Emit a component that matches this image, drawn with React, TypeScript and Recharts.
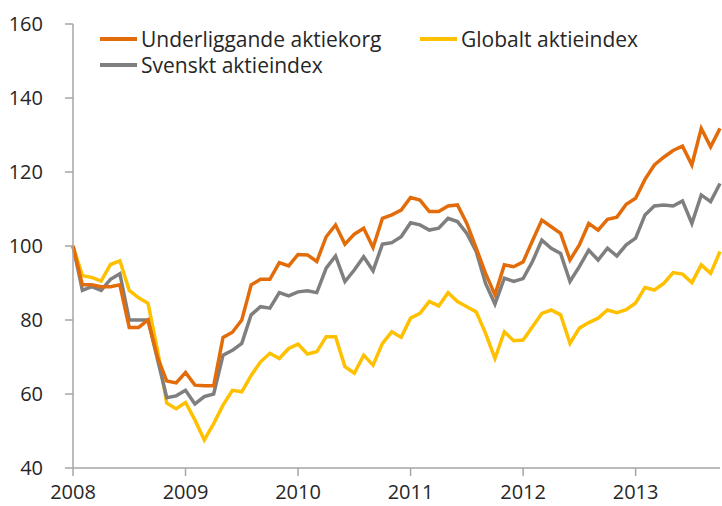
import { Line, LineChart, XAxis, YAxis } from "recharts";

// Monthly index values, Jan 2008 = 100, through Oct 2013.
const yearLabels = ["2008", "2009", "2010", "2011", "2012", "2013"];

const underliggande = [
  100, 89.5, 89.5, 89, 89, 89.5, 78, 78, 80, 70, 63.5, 63,
  65.8, 62.4, 62.2, 62.2, 75.3, 76.7, 80, 89.5, 91, 91, 95.5, 94.6,
  97.7, 97.6, 95.8, 102.5, 105.7, 100.5, 103.2, 104.8, 99.6, 107.5, 108.4, 109.7,
  113.1, 112.4, 109.3, 109.3, 110.8, 111.1, 106.1, 99.4, 92.6, 86.8, 94.9, 94.4,
  95.7, 101.4, 107, 105.2, 103.4, 96.2, 100.3, 106.1, 104.3, 107.2, 107.8, 111.3,
  112.9, 118, 121.9, 124, 125.8, 127, 121.9, 131.8, 126.8, 131.8,
];

const globalt = [
  100, 92, 91.5, 90.5, 95, 96, 88, 86, 84.5, 72, 57.5, 56,
  57.7, 53, 47.6, 52, 57, 61, 60.6, 65, 68.7, 71, 69.6, 72.3,
  73.5, 70.8, 71.4, 75.5, 75.5, 67.4, 65.6, 70.5, 67.8, 73.7, 76.8, 75.3,
  80.5, 81.8, 85, 83.8, 87.4, 85, 83.6, 82.2, 76.4, 69.6, 76.8, 74.4,
  74.6, 78.2, 81.8, 82.7, 81.4, 73.7, 77.8, 79.3, 80.5, 82.7, 82, 82.8,
  84.6, 88.8, 88.1, 89.9, 92.8, 92.4, 90.1, 94.9, 92.6, 98.5,
];

const svenskt = [
  100, 88, 89, 88, 91, 92.5, 80, 80, 80, 69.5, 59, 59.5,
  61, 57.3, 59.3, 60, 70.5, 71.8, 73.7, 81.4, 83.6, 83.2, 87.4, 86.5,
  87.6, 87.9, 87.4, 94, 97.3, 90.4, 93.5, 97.1, 93.3, 100.5, 100.9, 102.5,
  106.3, 105.7, 104.3, 104.8, 107.5, 106.6, 103.4, 98.5, 89.9, 84.3, 91.3, 90.4,
  91.2, 95.8, 101.6, 99.4, 98, 90.4, 94.4, 98.9, 96.2, 99.4, 97.3, 100.3,
  102.1, 108.4, 110.8, 111.1, 110.8, 112.2, 106.1, 113.8, 112, 116.9,
];

const months = underliggande.map(
  (_, i) => `${2008 + Math.floor(i / 12)}-${String((i % 12) + 1).padStart(2, "0")}`
);

const data = months.map((month, i) => ({
  month,
  underliggande: underliggande[i],
  globalt: globalt[i],
  svenskt: svenskt[i],
}));

const yearTicks = yearLabels.map((y) => `${y}-01`);

const ORANGE = "#E36C0A";
const GOLD = "#FFC000";
const GRAY = "#7F7F7F";
const TEXT = "#262626";
const FONT = "'Open Sans', 'Noto Sans', sans-serif";

const legendItems = [
  { label: "Underliggande aktiekorg", color: ORANGE, left: 100, top: 27 },
  { label: "Globalt aktieindex", color: GOLD, left: 420, top: 27 },
  { label: "Svenskt aktieindex", color: GRAY, left: 100, top: 53 },
];

// legend drawn as an overlay so it doesn't push the plot area down
const ChartLegend = () => (
  <div style={{ position: "absolute", left: 0, top: 0, width: 722, height: 80, pointerEvents: "none" }}>
    {legendItems.map((item) => (
      <div
        key={item.label}
        style={{
          position: "absolute",
          left: item.left,
          top: item.top,
          height: 24,
          display: "flex",
          alignItems: "center",
          fontFamily: FONT,
          fontSize: 21,
          color: TEXT,
          whiteSpace: "nowrap",
        }}
      >
        <span
          style={{
            display: "inline-block",
            width: 37,
            height: 4,
            background: item.color,
            marginRight: 4,
          }}
        />
        {item.label}
      </div>
    ))}
  </div>
);

export default function App() {
  return (
    <div style={{ position: "absolute", left: 0, top: 0, width: 722, height: 506, background: "#fff" }}>
      <LineChart
        width={722}
        height={506}
        data={data}
        margin={{ top: 24, right: 2, bottom: 0, left: 0 }}
      >
        <XAxis
          dataKey="month"
          ticks={yearTicks}
          tickFormatter={(v: string) => v.slice(0, 4)}
          interval={0}
          height={38}
          stroke="#A6A6A6"
          strokeWidth={1.5}
          tickSize={8}
          tickMargin={9}
          tick={{ fill: TEXT, fontSize: 20, fontFamily: FONT }}
        />
        <YAxis
          domain={[40, 160]}
          ticks={[40, 60, 80, 100, 120, 140, 160]}
          width={73}
          stroke="#A6A6A6"
          strokeWidth={1.5}
          tickSize={8}
          tickMargin={22}
          tick={{ fill: TEXT, fontSize: 20, fontFamily: FONT }}
        />
        <Line
          type="linear"
          dataKey="globalt"
          stroke={GOLD}
          strokeWidth={3.5}
          dot={false}
          isAnimationActive={false}
        />
        <Line
          type="linear"
          dataKey="svenskt"
          stroke={GRAY}
          strokeWidth={3.5}
          dot={false}
          isAnimationActive={false}
        />
        <Line
          type="linear"
          dataKey="underliggande"
          stroke={ORANGE}
          strokeWidth={3.5}
          dot={false}
          isAnimationActive={false}
        />
      </LineChart>
      <ChartLegend />
    </div>
  );
}
